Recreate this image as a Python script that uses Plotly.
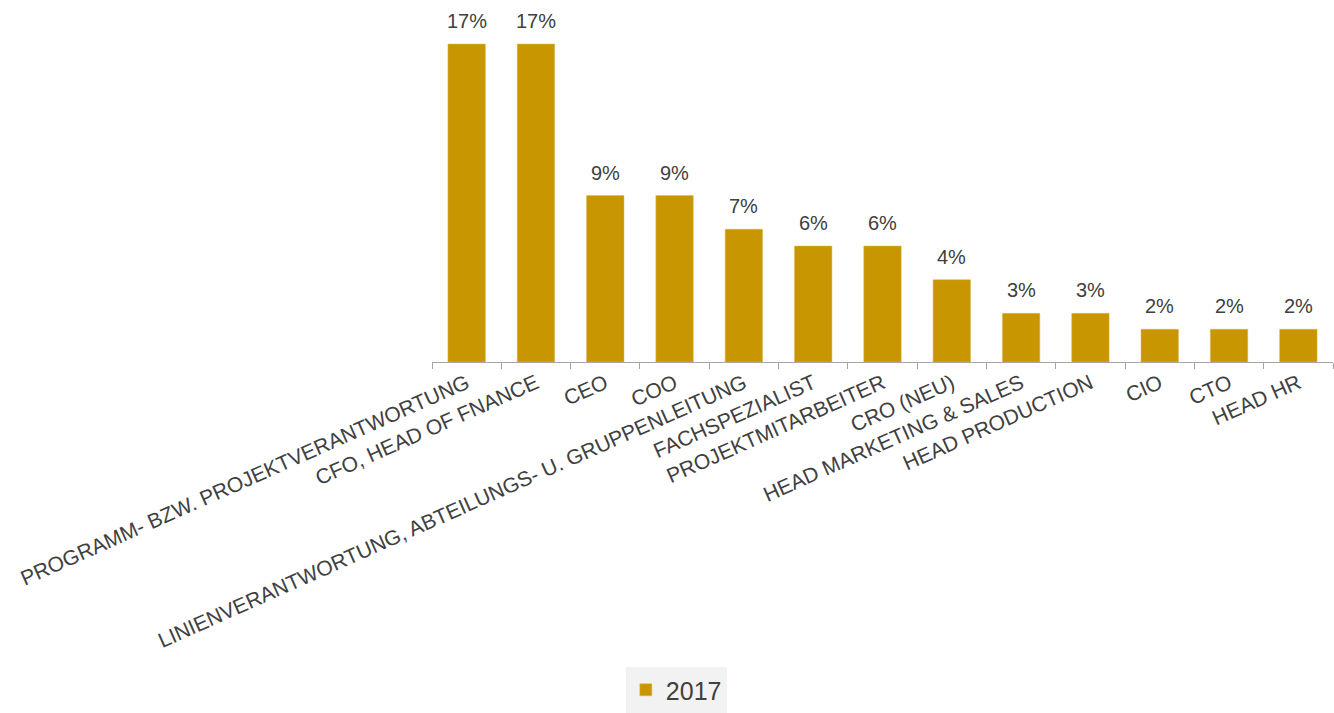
import plotly.graph_objects as go

categories = [
    "PROGRAMM- BZW. PROJEKTVERANTWORTUNG",
    "CFO, HEAD OF FNANCE",
    "CEO",
    "COO",
    "LINIENVERANTWORTUNG, ABTEILUNGS- U. GRUPPENLEITUNG",
    "FACHSPEZIALIST",
    "PROJEKTMITARBEITER",
    "CRO (NEU)",
    "HEAD MARKETING & SALES",
    "HEAD PRODUCTION",
    "CIO",
    "CTO",
    "HEAD HR",
]
values_2017 = [17.0, 17.0, 8.9, 8.9, 7.1, 6.2, 6.2, 4.4, 2.6, 2.6, 1.75, 1.75, 1.75]
series_name = "2017"

BAR = "#C89600"
TXT = "#404040"
FONT = "Liberation Sans, Arial, sans-serif"

fig = go.Figure()
fig.add_trace(go.Bar(
    x=categories, y=values_2017, name=series_name,
    marker=dict(color=BAR, line=dict(color="#dcb84a", width=0.5)),
    showlegend=True,
))

for c, v in zip(categories, values_2017):
    fig.add_annotation(x=c, y=v, text=f"{v:.0f}%", showarrow=False,
                       yanchor="bottom", yshift=10,
                       font=dict(size=20, color=TXT, family=FONT))

fig.update_layout(
    width=1334, height=713,
    margin=dict(l=432, r=1, t=10, b=351),
    plot_bgcolor="white", paper_bgcolor="white",
    bargap=0.46,
    font=dict(family=FONT, color=TXT, size=20),
    showlegend=True,
    legend=dict(orientation="h", xref="container", yref="container",
                x=0.507, xanchor="center", y=0.0, yanchor="bottom",
                bgcolor="#f2f2f2", font=dict(size=25, color=TXT),
                itemwidth=30),
)
fig.update_xaxes(
    type="category", tickangle=-24, showline=True, linecolor="#a6a6a6",
    linewidth=1, ticks="outside", tickson="boundaries", tickcolor="#a6a6a6",
    ticklen=6, showgrid=False, tickfont=dict(size=21, color=TXT, family=FONT),
)
fig.update_yaxes(visible=False, range=[0, 18.82], showgrid=False)

fig.write_html("out.html")
